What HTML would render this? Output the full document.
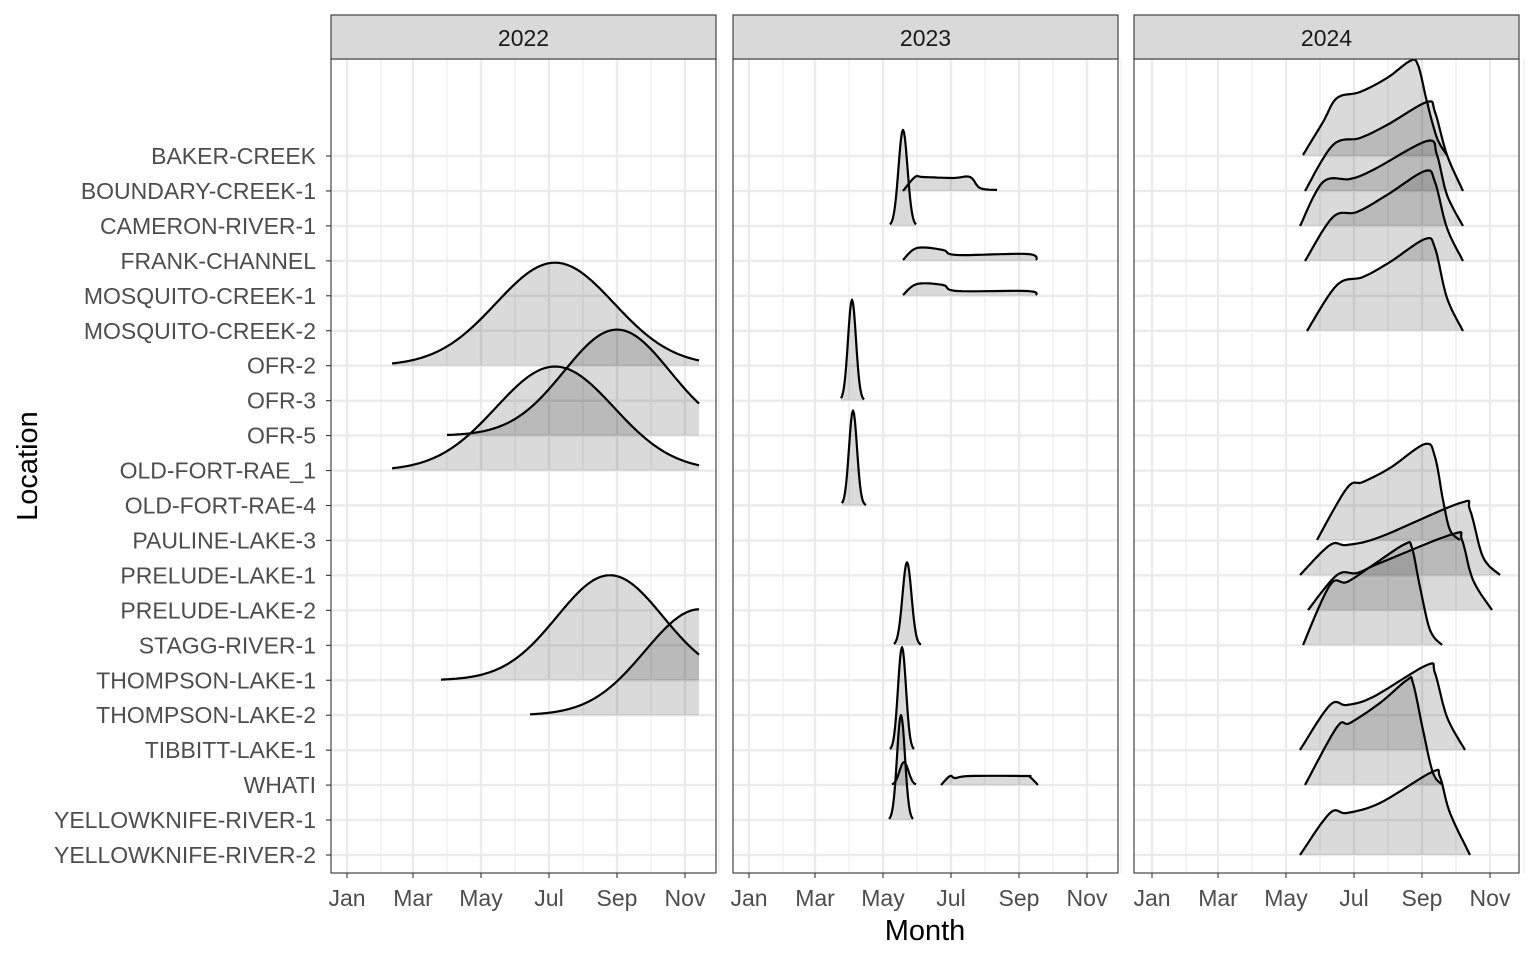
<!DOCTYPE html>
<html><head><meta charset="utf-8"><style>
html,body{margin:0;padding:0;background:#fff;}
svg{display:block;font-family:"Liberation Sans",Arial,sans-serif;}
</style></head><body>
<svg id="s" width="1536" height="960" xmlns="http://www.w3.org/2000/svg"></svg>
<script>
const S=document.getElementById('s');
let h='';
const panels=[331,733,1134], PW=385, T=59, B=873;
const labs=["BAKER-CREEK","BOUNDARY-CREEK-1","CAMERON-RIVER-1","FRANK-CHANNEL","MOSQUITO-CREEK-1","MOSQUITO-CREEK-2","OFR-2","OFR-3","OFR-5","OLD-FORT-RAE_1","OLD-FORT-RAE-4","PAULINE-LAKE-3","PRELUDE-LAKE-1","PRELUDE-LAKE-2","STAGG-RIVER-1","THOMPSON-LAKE-1","THOMPSON-LAKE-2","TIBBITT-LAKE-1","WHATI","YELLOWKNIFE-RIVER-1","YELLOWKNIFE-RIVER-2"];
const yOf=i=>156+i*34.95;
const mon=["Jan","Mar","May","Jul","Sep","Nov"];
const mx=[347,413,481,549,617,685];
const offs=[0,402,805];
panels.forEach((px,k)=>{
  h+=`<rect x="${px}" y="${T}" width="${PW}" height="${B-T}" fill="#fff"/>`;
  for(let j=0;j<mx.length;j++){const x=mx[j]+offs[k]+34;h+=`<line x1="${x}" x2="${x}" y1="${T}" y2="${B}" stroke="#ebebeb" stroke-width="1.2"/>`;}
  labs.forEach((l,i)=>{h+=`<line x1="${px}" x2="${px+PW}" y1="${yOf(i)}" y2="${yOf(i)}" stroke="#ebebeb" stroke-width="2.4"/>`;});
  mx.forEach(m=>{const x=m+offs[k];h+=`<line x1="${x}" x2="${x}" y1="${T}" y2="${B}" stroke="#ebebeb" stroke-width="2.4"/>`;});
});
function gauss(c,s,ht,b,x0,x1){let p=[];for(let x=x0;x<=x1;x+=1){p.push([x,b-ht*Math.exp(-(x-c)*(x-c)/(2*s*s))]);}return p;}
function smooth(pts){let p=[];for(let i=0;i<pts.length-1;i++){const p0=pts[Math.max(0,i-1)],p1=pts[i],p2=pts[i+1],p3=pts[Math.min(pts.length-1,i+2)];for(let t=0;t<1;t+=0.1){const t2=t*t,t3=t2*t;const f=(a,b,c,d)=>0.5*((2*b)+(-a+c)*t+(2*a-5*b+4*c-d)*t2+(-a+3*b-3*c+d)*t3);p.push([f(p0[0],p1[0],p2[0],p3[0]),f(p0[1],p1[1],p2[1],p3[1])]);}}p.push(pts[pts.length-1]);return p;}
let ridges=[];
function R(b,pts){ridges.push({b,pts});}
const Y=i=>yOf(i);
R(Y(6),gauss(555,59,103,Y(6),392,699));
R(Y(8),gauss(617,53,106,Y(8),447,699));
R(Y(9),gauss(555,59,104,Y(9),392,699));
R(Y(15),gauss(610,53,105,Y(15),441,699));
R(Y(16),gauss(700,55,106,Y(16),530,699));
R(Y(1),smooth([[903,191],[915,177],[923,177],[953,178],[970,177],[980,188],[997,190]]));
R(Y(2),gauss(903,4.5,96,Y(2),890,916));
R(Y(3),smooth([[903,260],[917,248],[943,250],[957,255],[1027,254],[1037,260]]));
R(Y(4),smooth([[903,295],[917,284],[943,285],[957,291],[1027,291],[1037,295]]));
R(Y(7),gauss(852,4,101,Y(7),841,864));
R(Y(10),gauss(853,4,95,Y(10),842,866));
R(Y(14),gauss(907,4.5,83,Y(14),894,921));
R(Y(17),gauss(902,4,103,Y(17),890,914));
R(Y(18),gauss(904,4.5,23,Y(18),892,916));
R(Y(18),smooth([[941,785],[950,776],[955,778],[970,776],[1025,776],[1030,777],[1038,785]]));
R(Y(19),gauss(901,4,105,Y(19),889,913));
R(Y(0),smooth([[1303,155],[1323,122],[1337,98],[1360,92],[1387,78],[1410,61],[1418,65],[1427,102],[1437,138],[1447,155]]));
R(Y(1),smooth([[1305,191],[1333,145],[1360,138],[1387,125],[1427,102],[1435,112],[1447,155],[1463,191]]));
R(Y(2),smooth([[1300,226],[1323,182],[1350,179],[1373,170],[1427,141],[1437,155],[1447,195],[1463,226]]));
R(Y(3),smooth([[1305,261],[1333,217],[1357,212],[1387,195],[1425,171],[1435,182],[1447,228],[1463,261]]));
R(Y(5),smooth([[1307,331],[1337,285],[1363,277],[1390,262],[1425,239],[1435,248],[1447,298],[1463,331]]));
R(Y(11),smooth([[1317,540],[1347,488],[1363,482],[1390,468],[1425,444],[1435,457],[1443,500],[1450,530],[1460,540]]));
R(Y(12),smooth([[1300,575],[1330,545],[1347,545],[1380,537],[1460,503],[1470,510],[1483,557],[1500,575]]));
R(Y(13),smooth([[1308,610],[1337,575],[1357,573],[1380,563],[1453,534],[1462,540],[1473,580],[1492,610]]));
R(Y(14),smooth([[1303,645],[1330,585],[1347,582],[1373,565],[1405,544],[1412,548],[1420,587],[1430,630],[1442,645]]));
R(Y(17),smooth([[1300,750],[1330,705],[1347,705],[1373,697],[1427,665],[1435,673],[1447,717],[1465,750]]));
R(Y(18),smooth([[1305,785],[1337,727],[1350,723],[1380,703],[1407,680],[1413,683],[1423,730],[1433,773],[1443,785]]));
R(Y(20),smooth([[1300,855],[1330,813],[1347,813],[1380,803],[1432,772],[1440,777],[1450,813],[1470,855]]));
ridges.forEach(r=>{
  const p=r.pts;const d=p.map((q,i)=>(i?'L':'M')+q[0].toFixed(1)+' '+q[1].toFixed(1)).join(' ');
  const last=p[p.length-1],first=p[0];
  h+=`<path d="${d} L${last[0].toFixed(1)} ${r.b} L${first[0].toFixed(1)} ${r.b} Z" fill="rgba(0,0,0,0.145)" stroke="none"/>`;
  h+=`<path d="${d}" fill="none" stroke="#000" stroke-width="2.2" stroke-linejoin="round"/>`;
});
const yrs=["2022","2023","2024"];
panels.forEach((px,k)=>{
  h+=`<rect x="${px}" y="${T}" width="${PW}" height="${B-T}" fill="none" stroke="#333" stroke-width="1.1"/>`;
  h+=`<rect x="${px}" y="15" width="${PW}" height="44" fill="#d9d9d9" stroke="#333" stroke-width="1.1"/>`;
  h+=`<text x="${px+PW/2}" y="46" font-size="23" text-anchor="middle" fill="#1a1a1a">${yrs[k]}</text>`;
  mx.forEach((m,j)=>{const x=m+offs[k];h+=`<line x1="${x}" x2="${x}" y1="${B}" y2="${B+5}" stroke="#333" stroke-width="1.1"/><text x="${x}" y="${B+33}" font-size="23" text-anchor="middle" fill="#4d4d4d">${mon[j]}</text>`;});
});
labs.forEach((l,i)=>{const y=yOf(i);h+=`<line x1="326" x2="331" y1="${y}" y2="${y}" stroke="#333" stroke-width="1.1"/><text x="316" y="${y+8}" font-size="23" text-anchor="end" fill="#4d4d4d">${l}</text>`;});
h+=`<text x="925" y="940" font-size="29" text-anchor="middle" fill="#000">Month</text>`;
h+=`<text transform="translate(37,466) rotate(-90)" font-size="29" text-anchor="middle" fill="#000">Location</text>`;
S.innerHTML=h;
</script>
</body></html>
